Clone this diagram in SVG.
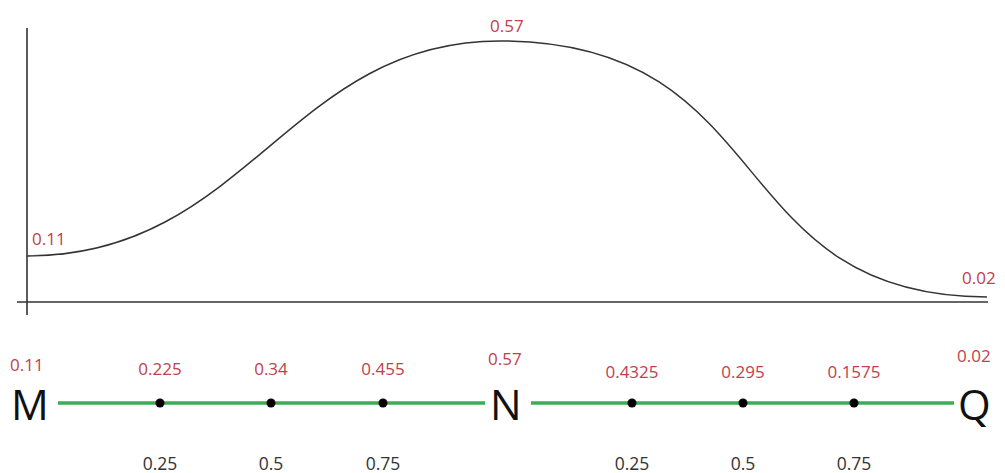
<svg xmlns="http://www.w3.org/2000/svg" width="1005" height="473" viewBox="0 0 1005 473">
<style>
.axis{stroke:#333;stroke-width:1.6;fill:none}
.curve{stroke:#333;stroke-width:1.5;fill:none}
.val{font-family:"Open Sans","Liberation Sans",sans-serif;font-size:17px;fill:#c0404c}
.big{font-family:"Open Sans","Liberation Sans",sans-serif;font-size:42px;fill:#111}
.t{font-family:"Open Sans","Liberation Sans",sans-serif;font-size:17.5px;fill:#333;text-anchor:middle}
.seg{stroke:#3aae55;stroke-width:3.5}
.dot{fill:#000}
</style>
<rect width="1005" height="473" fill="#fff"/>
<g id="chart">
<line class="axis" x1="27" y1="28" x2="27" y2="315"/>
<line class="axis" x1="17" y1="302" x2="988" y2="302"/>
<path class="curve" d="M27,256 C248,256 288,41 500,41 C782,41 720,297 987,297"/>
<text class="val" x="32" y="245">0.11</text>
<text class="val" x="490" y="32">0.57</text>
<text class="val" x="962" y="284">0.02</text>
</g>
<g id="connectors">
<line class="seg" x1="58" y1="403" x2="485" y2="403"/>
<line class="seg" x1="531" y1="403" x2="954" y2="403"/>
</g>
<g id="M"><text class="big" x="11" y="420">M</text><text class="val" x="10" y="371">0.11</text></g>
<g id="N"><text class="big" x="490" y="420">N</text><text class="val" x="488" y="365">0.57</text></g>
<g id="Q"><text class="big" x="958" y="420">Q</text><text class="val" x="957" y="362">0.02</text></g>
<g id="p1"><circle class="dot" cx="160" cy="403" r="4.5"/><text class="val" x="160" y="375" text-anchor="middle">0.225</text><text class="t" x="160" y="470">0.25</text></g>
<g id="p2"><circle class="dot" cx="271" cy="403" r="4.5"/><text class="val" x="271" y="375" text-anchor="middle">0.34</text><text class="t" x="271" y="470">0.5</text></g>
<g id="p3"><circle class="dot" cx="383" cy="403" r="4.5"/><text class="val" x="383" y="375" text-anchor="middle">0.455</text><text class="t" x="383" y="470">0.75</text></g>
<g id="p4"><circle class="dot" cx="632" cy="403" r="4.5"/><text class="val" x="632" y="378" text-anchor="middle">0.4325</text><text class="t" x="632" y="470">0.25</text></g>
<g id="p5"><circle class="dot" cx="743" cy="403" r="4.5"/><text class="val" x="743" y="378" text-anchor="middle">0.295</text><text class="t" x="743" y="470">0.5</text></g>
<g id="p6"><circle class="dot" cx="854" cy="403" r="4.5"/><text class="val" x="854" y="378" text-anchor="middle">0.1575</text><text class="t" x="854" y="470">0.75</text></g>
</svg>
